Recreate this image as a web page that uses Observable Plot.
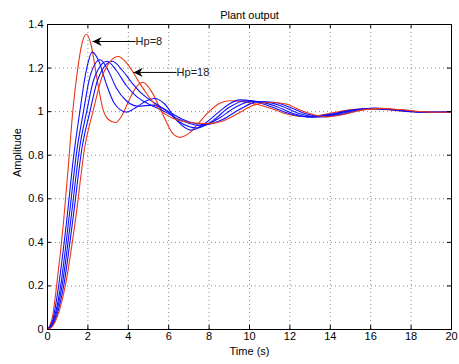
<!DOCTYPE html>
<html>
<head>
<meta charset="utf-8">
<script src="https://cdn.jsdelivr.net/npm/d3@7"></script>
<script src="https://cdn.jsdelivr.net/npm/@observablehq/plot@0.6"></script>
<style>
  html, body { margin: 0; padding: 0; background: #fff; }
</style>
</head>
<body>
<div id="chart"></div>
<script>
// ---- data ----
const title = "Plant output";
const xLabel = "Time (s)";
const yLabel = "Amplitude";
const xTicks = [0, 2, 4, 6, 8, 10, 12, 14, 16, 18, 20];
const xTickLabels = ["0", "2", "4", "6", "8", "10", "12", "14", "16", "18", "20"];
const yTicks = [0, 0.2, 0.4, 0.6, 0.8, 1, 1.2, 1.4];
const yTickLabels = ["0", "0.2", "0.4", "0.6", "0.8", "1", "1.2", "1.4"];

const horizons = [8, 10, 12, 14, 16, 18];
const seriesColors = ["red", "blue", "blue", "blue", "blue", "red"];

// [time (s), amplitude]
const hp8 = [[0,0],[0.25,0.06],[0.45,0.2],[0.8,0.5],[1.05,0.77],[1.25,1.0],[1.5,1.2],[1.7,1.31],[1.93,1.355],[2.15,1.31],[2.45,1.15],[2.75,1.01],[3.0,0.965],[3.37,0.95],[3.7,0.985],[4.0,1.045],[4.3,1.1],[4.72,1.135],[5.1,1.1],[5.5,1.03],[5.9,0.95],[6.2,0.9],[6.55,0.882],[7.0,0.9],[7.5,0.95],[8.0,1.0],[8.5,1.037],[9.0,1.05],[9.6,1.047],[10.2,1.037],[11,1.017],[11.8,0.99],[12.6,0.978],[13.2,0.98],[14,0.993],[15,1.008],[15.8,1.013],[16.6,1.01],[17.5,1.003],[18.5,0.998],[20,0.998]];
const hp10 = [[0,0],[0.25,0.04],[0.55,0.2],[0.95,0.5],[1.3,0.8],[1.6,1.0],[1.9,1.18],[2.22,1.273],[2.55,1.23],[2.9,1.13],[3.3,1.04],[3.9,0.998],[4.4,1.02],[4.9,1.05],[5.3,1.06],[5.8,1.035],[6.4,0.96],[7.1,0.915],[7.7,0.94],[8.5,1.0],[9.0,1.035],[9.5,1.054],[10.1,1.05],[11,1.025],[12,0.99],[12.9,0.975],[13.8,0.985],[15,1.006],[16,1.015],[17,1.009],[18,1.0],[19,0.997],[20,0.998]];
const hp12 = [[0,0],[0.25,0.03],[0.65,0.2],[1.05,0.5],[1.45,0.82],[1.78,1.0],[2.1,1.16],[2.6,1.238],[3.0,1.19],[3.4,1.11],[3.9,1.05],[4.5,1.025],[5.2,1.03],[5.8,1.01],[6.5,0.955],[7.4,0.925],[8.2,0.96],[9.0,1.02],[9.8,1.05],[10.5,1.045],[11.3,1.025],[12.2,0.99],[13.1,0.975],[14,0.985],[15,1.004],[16.1,1.015],[17,1.01],[18,1.001],[19,0.997],[20,0.998]];
const hp14 = [[0,0],[0.25,0.025],[0.72,0.2],[1.15,0.5],[1.6,0.84],[1.94,1.0],[2.3,1.15],[2.95,1.231],[3.4,1.19],[3.9,1.12],[4.4,1.07],[5.0,1.035],[5.6,1.01],[6.5,0.965],[7.6,0.935],[8.5,0.97],[9.3,1.02],[10.1,1.047],[10.8,1.045],[11.6,1.025],[12.5,0.99],[13.3,0.976],[14.2,0.985],[15.2,1.005],[16.2,1.015],[17.1,1.01],[18.1,1.001],[19,0.997],[20,0.998]];
const hp16 = [[0,0],[0.25,0.02],[0.8,0.2],[1.25,0.5],[1.72,0.84],[2.1,1.0],[2.5,1.15],[3.2,1.231],[3.7,1.19],[4.2,1.13],[4.7,1.08],[5.3,1.04],[6.0,1.0],[6.8,0.96],[7.8,0.94],[8.7,0.965],[9.5,1.01],[10.4,1.045],[11.2,1.043],[12,1.02],[12.8,0.99],[13.6,0.976],[14.5,0.986],[15.4,1.005],[16.3,1.015],[17.2,1.01],[18.2,1.001],[19,0.997],[20,0.998]];
const hp18 = [[0,0],[0.25,0.015],[0.88,0.2],[1.38,0.5],[1.85,0.84],[2.25,1.0],[2.7,1.16],[3.1,1.23],[3.5,1.253],[3.9,1.225],[4.27,1.176],[4.6,1.125],[4.93,1.08],[5.3,1.035],[5.6,1.005],[6.2,0.97],[7.0,0.95],[7.9,0.945],[8.6,0.955],[9.4,0.99],[10.2,1.03],[11.0,1.043],[11.8,1.035],[12.7,1.0],[13.8,0.976],[14.8,0.99],[15.6,1.008],[16.5,1.015],[17.4,1.01],[18.4,1.001],[19.2,0.997],[20,0.998]];

// annotations: label, arrow tip (time, amplitude), label start time
const annLabels = ["Hp=8", "Hp=18"];
const annTipX = [2.23, 4.26];
const annTipY = [1.322, 1.18];
const annTextX = [4.36, 6.39];

// ---- build tables ----
const seriesData = [hp8, hp10, hp12, hp14, hp16, hp18];
const colorMap = {red: "#e8361a", blue: "#1010ff"};
const annotations = annLabels.map((label, i) => ({label, tipX: annTipX[i], tipY: annTipY[i], textX: annTextX[i]}));

// ---- layout ----
const W = 459, H = 364;
const mL = 47, mR = 8, mT = 24, mB = 35;
const innerW = W - mL - mR, innerH = H - mT - mB;
const tickLen = 4;

const arrowHead = {
  draw(ctx, size) {
    const r = Math.sqrt(size / Math.PI);
    const L = 2 * r, w = r;
    ctx.moveTo(0, 0);
    ctx.lineTo(L, -w);
    ctx.lineTo(L * 0.68, 0);
    ctx.lineTo(L, w);
    ctx.closePath();
  }
};

const gridStyle = {stroke: "#8a8a8a", strokeOpacity: 1, strokeWidth: 1, strokeDasharray: "1,3"};

const lineMarks = seriesData.map((s, i) =>
  Plot.line(s.map(([t, y]) => ({t, y, hp: horizons[i]})), {
    x: "t", y: "y", curve: "monotone-x",
    stroke: colorMap[seriesColors[i]], strokeWidth: 1.1
  })
);

const chart = Plot.plot({
  width: W, height: H,
  marginLeft: mL, marginRight: mR, marginTop: mT, marginBottom: mB,
  style: {fontFamily: "'Liberation Sans', Arial, Helvetica, sans-serif", fontSize: "11px", background: "#fff", color: "#000"},
  x: {domain: [0, 20]},
  y: {domain: [0, 1.4]},
  marks: [
    Plot.gridX(xTicks.slice(1, -1), gridStyle),
    Plot.gridY(yTicks.slice(1, -1), gridStyle),
    ...lineMarks,
    // inward ticks on all four sides
    Plot.tickX(xTicks, {x: d => d, insetTop: innerH - tickLen, stroke: "#000"}),
    Plot.tickX(xTicks, {x: d => d, insetBottom: innerH - tickLen, stroke: "#000"}),
    Plot.tickY(yTicks, {y: d => d, insetRight: innerW - tickLen, stroke: "#000"}),
    Plot.tickY(yTicks, {y: d => d, insetLeft: innerW - tickLen, stroke: "#000"}),
    Plot.frame({stroke: "#000", strokeWidth: 1}),
    Plot.axisX(xTicks, {tickSize: 0, tickPadding: 3, tickFormat: (d, i) => xTickLabels[i], label: null, fontSize: 11}),
    Plot.axisY(yTicks, {tickSize: 0, tickPadding: 4, tickFormat: (d, i) => yTickLabels[i], label: null, fontSize: 11}),
    // annotations
    Plot.link(annotations, {x1: "textX", y1: "tipY", x2: "tipX", y2: "tipY", stroke: "#000", strokeWidth: 1}),
    Plot.dot(annotations, {x: "tipX", y: "tipY", symbol: arrowHead, r: 4.6, fill: "#000", stroke: "none"}),
    Plot.text(annotations, {x: "textX", y: "tipY", text: "label", textAnchor: "start", dx: 0, fontSize: 11, fill: "#222"}),
    // titles
    Plot.text([title], {frameAnchor: "top", dy: -13, fontSize: 11}),
    Plot.text([xLabel], {frameAnchor: "bottom", dy: 25, fontSize: 11}),
    Plot.text([yLabel], {frameAnchor: "left", dx: -30, rotate: -90, fontSize: 11})
  ]
});
document.getElementById("chart").appendChild(chart);
</script>
</body>
</html>
